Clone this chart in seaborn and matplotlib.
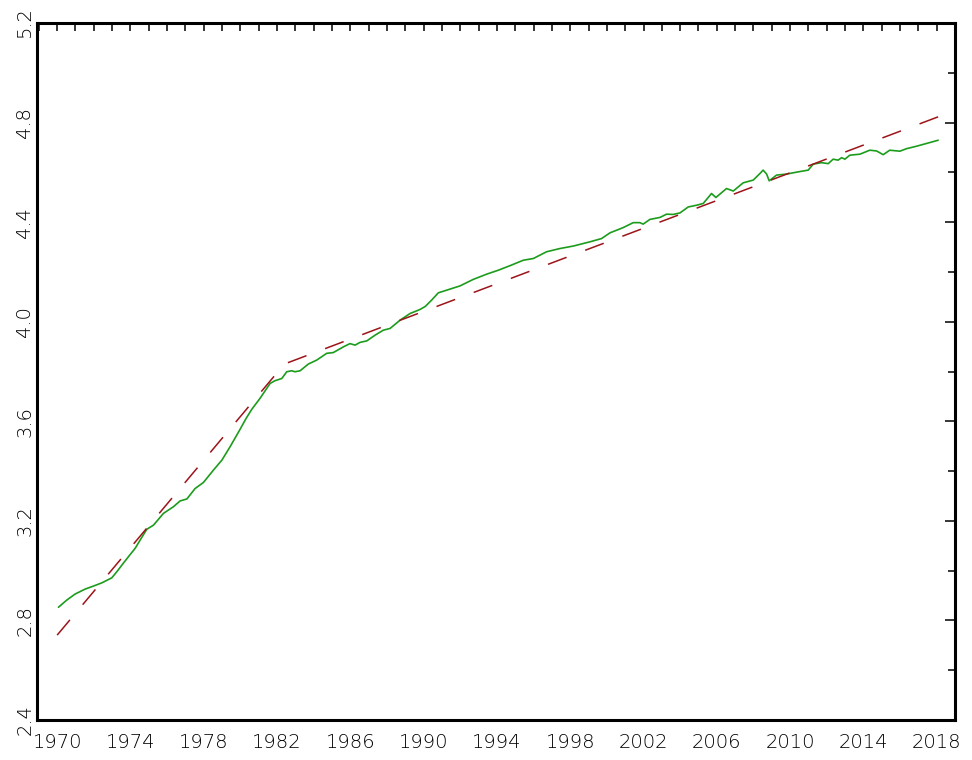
import numpy as np
import pandas as pd
import matplotlib
matplotlib.use("Agg")
import matplotlib.pyplot as plt
from matplotlib.ticker import MultipleLocator
import seaborn as sns

# series (year, log level)
series_years = [
    1970.07, 1970.53, 1970.98, 1971.53, 1971.98, 1972.44, 1972.98, 1973.26,
    1973.53, 1973.89, 1974.26, 1974.53, 1974.89, 1975.26, 1975.80, 1976.35,
    1976.71, 1977.08, 1977.53, 1977.98, 1978.53, 1978.99, 1979.44, 1980.00,
    1980.30, 1980.62, 1981.07, 1981.62, 1981.89, 1982.26, 1982.53, 1982.80,
    1982.98, 1983.26, 1983.71, 1984.17, 1984.71, 1985.07, 1985.62, 1985.98,
    1986.26, 1986.53, 1986.90, 1987.35, 1987.80, 1988.17, 1988.71, 1989.26,
    1989.80, 1990.10, 1990.44, 1990.80, 1991.44, 1991.99, 1992.71, 1993.44,
    1994.08, 1994.71, 1995.44, 1995.99, 1996.71, 1997.44, 1998.17, 1999.08,
    1999.71, 2000.17, 2000.89, 2001.44, 2001.80, 2001.98, 2002.35, 2002.90,
    2003.26, 2003.62, 2003.99, 2004.44, 2004.90, 2005.26, 2005.71, 2005.95,
    2006.53, 2006.90, 2007.44, 2007.99, 2008.35, 2008.53, 2008.72, 2008.86,
    2009.26, 2009.80, 2010.44, 2010.99, 2011.26, 2011.72, 2012.08, 2012.35,
    2012.62, 2012.81, 2012.99, 2013.26, 2013.81, 2014.35, 2014.72, 2015.08,
    2015.44, 2015.99, 2016.35, 2016.90, 2017.44, 2018.08,
]
series_values = [
    2.853, 2.882, 2.906, 2.926, 2.938, 2.951, 2.971, 2.996,
    3.022, 3.056, 3.090, 3.123, 3.166, 3.183, 3.230, 3.257,
    3.280, 3.288, 3.330, 3.354, 3.404, 3.444, 3.498, 3.570,
    3.610, 3.648, 3.692, 3.752, 3.763, 3.772, 3.799, 3.803,
    3.799, 3.803, 3.830, 3.846, 3.873, 3.876, 3.899, 3.912,
    3.906, 3.917, 3.923, 3.946, 3.966, 3.973, 4.006, 4.033,
    4.049, 4.062, 4.087, 4.116, 4.131, 4.144, 4.170, 4.191,
    4.207, 4.225, 4.247, 4.254, 4.281, 4.294, 4.304, 4.321,
    4.334, 4.357, 4.378, 4.398, 4.398, 4.392, 4.411, 4.419,
    4.432, 4.431, 4.437, 4.461, 4.468, 4.475, 4.515, 4.499,
    4.535, 4.525, 4.558, 4.569, 4.595, 4.609, 4.593, 4.566,
    4.589, 4.593, 4.602, 4.609, 4.633, 4.639, 4.635, 4.653,
    4.649, 4.659, 4.653, 4.669, 4.673, 4.689, 4.686, 4.671,
    4.689, 4.685, 4.695, 4.705, 4.716, 4.729,
]

# broken linear trend (kink around 1982)
trend_years = [1970.0, 1982.4, 2018.08]
trend_values = [2.741, 3.830, 4.823]

x_major = list(range(1970, 2019, 4))
y_major = [2.4, 2.8, 3.2, 3.6, 4.0, 4.4, 4.8, 5.2]

sns.set_theme(style="white")
plt.rcParams['font.family'] = ['DejaVu Sans']
plt.rcParams['font.weight'] = 'light'

fig = plt.figure(figsize=(9.72, 7.6), dpi=100)
ax = fig.add_axes([37 / 972, 40 / 760, 918 / 972, 697 / 760])

series = pd.DataFrame({"year": series_years, "value": series_values})
trend = pd.DataFrame({"year": trend_years, "value": trend_values})

sns.lineplot(data=series, x="year", y="value", ax=ax, color="#1c9c1c", lw=1.2)
sns.lineplot(data=trend, x="year", y="value", ax=ax, color="#9c1419", lw=1.1)
ax.lines[-1].set_dashes((13, 13))

ax.set_xlim(1968.9, 2019.0)
ax.set_ylim(2.4, 5.2)
ax.set_xlabel("")
ax.set_ylabel("")

ax.set_xticks(x_major)
ax.set_xticklabels([str(y) for y in x_major])
ax.xaxis.set_minor_locator(MultipleLocator(1))
ax.set_yticks(y_major)
ax.set_yticklabels([f"{v:.1f}" for v in y_major], rotation=90, va="center")
ax.yaxis.set_minor_locator(MultipleLocator(0.2))

ax.tick_params(axis="both", which="both", direction="in", colors="black",
               top=True, right=True, width=1.1, labelsize=14, labelcolor="black")
ax.tick_params(axis="x", which="both", length=6, pad=9)
ax.tick_params(axis="y", which="major", length=7, pad=2)
ax.tick_params(axis="y", which="minor", length=5)

for side in ["left", "right", "top", "bottom"]:
    ax.spines[side].set_visible(True)
    ax.spines[side].set_color("black")
    ax.spines[side].set_linewidth(2.2)

ax.grid(False)
fig.savefig("out.png", dpi=100, facecolor="white")
